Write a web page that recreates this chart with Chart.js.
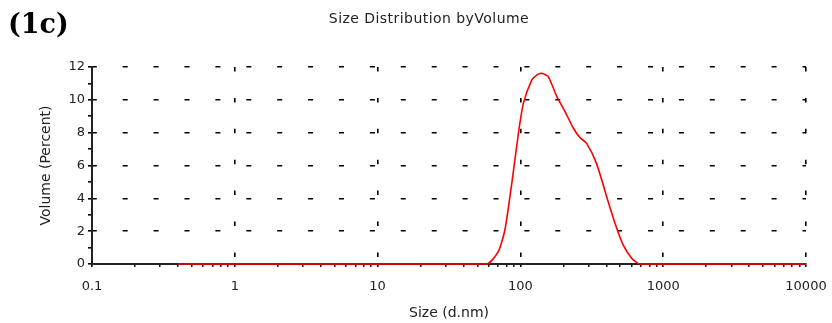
<!DOCTYPE html>
<html lang="en">
<head>
    <meta charset="UTF-8">
    <title>Size Distribution by Volume</title>
    <script src="https://cdn.jsdelivr.net/npm/chart.js"></script>
    <style>
        body {
            margin: 0;
            background: #fff;
        }
        #wrap {
            position: relative;
            width: 832px;
            height: 323px;
        }
        #panel {
            position: absolute;
            left: 8px;
            top: 8px;
            font: bold 27px "DejaVu Serif", serif;
            color: #000;
        }
        #title {
            position: absolute;
            left: 0;
            width: 858px;
            top: 10px;
            text-align: center;
            font: 14px "DejaVu Sans", sans-serif;
            letter-spacing: 0.45px;
            color: #222;
        }
    </style>
</head>
<body>

<div id="wrap">
    <canvas id="sizeChart" width="832" height="323"></canvas>
    <div id="panel">(1c)</div>
    <div id="title">Size Distribution byVolume</div>
</div>

<script>
    // size in d.nm and volume in percent
    const sizes = [0.4, 58, 70, 78, 87, 97, 105, 120, 130, 137, 143, 157, 180, 205, 234, 261, 291, 342, 402, 459, 525, 601, 650, 690, 10000, 15000];
    const volume = [0, 0, 0.75, 2.1, 4.9, 8.0, 9.8, 11.2, 11.5, 11.6, 11.6, 11.4, 10.2, 9.3, 8.3, 7.7, 7.35, 6.1, 4.1, 2.5, 1.15, 0.35, 0.1, 0, 0, 0];

    const decadeValues = [0.1, 1, 10, 100, 1000, 10000];
    const decadeLabels = ['0.1', '1', '10', '100', '1000', '10000'];

    // log ticks: 1..9 within each decade, used for the small axis marks
    const xTickValues = [];
    decadeValues.forEach((d, i) => {
        if (i === decadeValues.length - 1) {
            xTickValues.push(d);
            return;
        }
        for (let m = 1; m <= 9; m++) xTickValues.push(m * d);
    });

    function decadeIndex(v) {
        const l = Math.log10(v);
        if (Math.abs(l - Math.round(l)) > 1e-6) return -1;
        return decadeValues.findIndex(d => Math.abs(Math.log10(d) - l) < 1e-6);
    }

    const ctx = document.getElementById('sizeChart').getContext('2d');
    const sizeChart = new Chart(ctx, {
        type: 'line',
        data: {
            datasets: [{
                label: 'Volume',
                data: sizes.map((s, i) => ({x: s, y: volume[i]})),
                borderColor: '#ff0000',
                borderWidth: 1.6,
                pointRadius: 0,
                fill: false,
                tension: 0.2,
                clip: false
            }]
        },
        options: {
            responsive: false,
            animation: false,
            layout: {
                padding: {top: 67, right: 26, left: 0, bottom: 0}
            },
            plugins: {
                legend: {display: false},
                tooltip: {enabled: false},
                title: {display: false}
            },
            scales: {
                x: {
                    type: 'logarithmic',
                    min: 0.1,
                    max: 10000,
                    afterBuildTicks: scale => {
                        scale.ticks = xTickValues.map(v => ({value: v}));
                    },
                    afterFit: scale => {
                        scale.height = 59;
                        scale.paddingLeft = 0;
                        scale.paddingRight = 0;
                    },
                    ticks: {
                        autoSkip: false,
                        maxRotation: 0,
                        padding: 12,
                        color: '#222',
                        font: {family: 'DejaVu Sans', size: 13},
                        callback: value => {
                            const i = decadeIndex(value);
                            return i >= 0 ? decadeLabels[i] : '';
                        }
                    },
                    grid: {
                        color: c => (decadeIndex(c.tick.value) > 0 ? '#000' : 'rgba(0,0,0,0)'),
                        lineWidth: 1.6,
                        tickColor: '#000',
                        tickLength: 3,
                        tickWidth: c => (decadeIndex(c.tick.value) >= 0 ? 1.6 : 1.4)
                    },
                    border: {
                        display: true,
                        color: '#222',
                        width: 2,
                        dash: [4.5, 26.4],
                        dashOffset: 0
                    },
                    title: {
                        display: true,
                        text: 'Size (d.nm)',
                        color: '#222',
                        font: {family: 'DejaVu Sans', size: 14},
                        padding: {top: 0, bottom: 1.6}
                    }
                },
                y: {
                    min: 0,
                    max: 12,
                    afterFit: scale => {
                        scale.width = 92;
                    },
                    ticks: {
                        stepSize: 1,
                        autoSkip: false,
                        padding: 3,
                        color: '#222',
                        font: {family: 'DejaVu Sans', size: 13},
                        callback: value => (value % 2 === 0 ? String(value) : '')
                    },
                    grid: {
                        color: c => (c.tick.value % 2 === 0 && c.tick.value > 0 ? '#000' : 'rgba(0,0,0,0)'),
                        lineWidth: 1.6,
                        tickColor: '#000',
                        tickLength: 4,
                        tickWidth: 1.6
                    },
                    border: {
                        display: true,
                        color: '#222',
                        width: 2,
                        dash: [5, 25.9],
                        dashOffset: 1.2
                    },
                    title: {
                        display: true,
                        text: 'Volume (Percent)',
                        color: '#222',
                        font: {family: 'DejaVu Sans', size: 14},
                        padding: {top: 37.6, bottom: 0}
                    }
                }
            }
        }
    });
</script>

</body>
</html>
